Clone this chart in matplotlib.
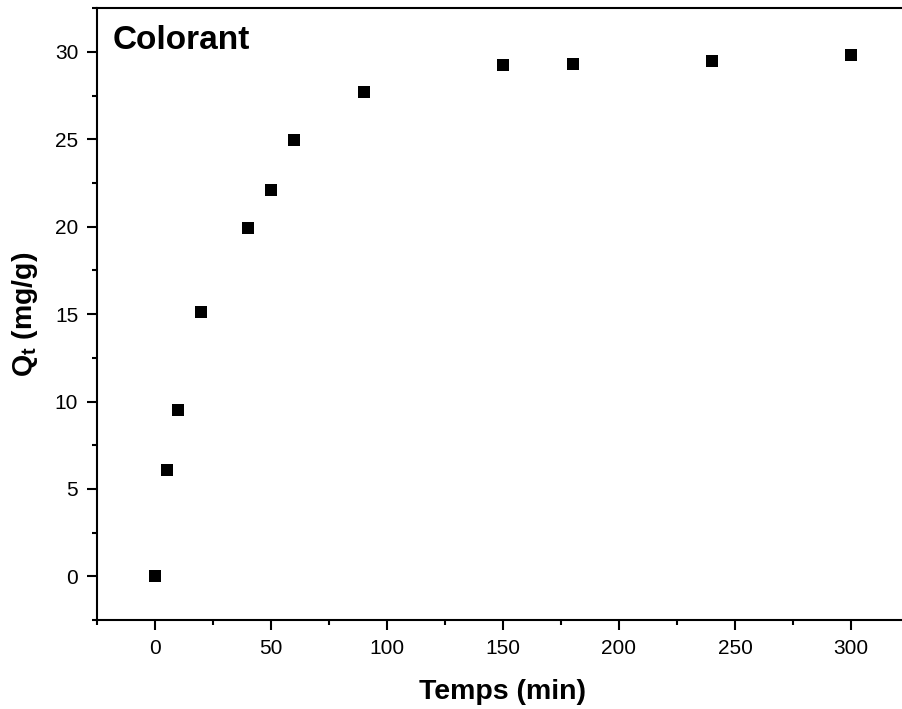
import matplotlib
matplotlib.use('Agg')
import matplotlib.pyplot as plt
from matplotlib.ticker import MultipleLocator

plt.rcParams['font.family'] = ['Liberation Sans', 'DejaVu Sans']
plt.rcParams['mathtext.fontset'] = 'custom'
plt.rcParams['mathtext.rm'] = 'Liberation Sans'
plt.rcParams['mathtext.bf'] = 'Liberation Sans:bold'

# contact time (min) and adsorbed amount (mg/g)
temps = [0, 5, 10, 20, 40, 50, 60, 90, 150, 180, 240, 300]
qt = [0.0, 6.07, 9.5, 15.1, 19.9, 22.1, 24.95, 27.7, 29.25, 29.3, 29.48, 29.8]

W, H = 903, 709
fig = plt.figure(figsize=(W / 100, H / 100), dpi=100)
ax = fig.add_axes([97 / W, (H - 620) / H, (909 - 97) / W, (620 - 8.2) / H])

ax.plot(temps, qt, 's', color='black', markersize=8.6, markeredgewidth=0)

ax.set_xlim(-25, 325)
ax.set_ylim(-2.5, 32.5)
ax.xaxis.set_major_locator(MultipleLocator(50))
ax.xaxis.set_minor_locator(MultipleLocator(25))
ax.yaxis.set_major_locator(MultipleLocator(5))
ax.yaxis.set_minor_locator(MultipleLocator(2.5))

for s in ax.spines.values():
    s.set_linewidth(1.5)
ax.tick_params(which='major', direction='out', length=7.5, width=1.5, labelsize=15, pad=6)
ax.tick_params(which='minor', direction='out', length=3.8, width=1.5)

ax.set_xlabel('Temps (min)', fontsize=20.5, fontweight='bold', labelpad=15)
ax.set_ylabel(r'$\mathbf{Q_t}$ (mg/g)', fontsize=20.5, fontweight='bold', labelpad=11)

ax.text(0.0197, 0.948, 'Colorant', transform=ax.transAxes, fontsize=24,
        fontweight='bold', va='center', ha='left')

fig.savefig('out.png', dpi=100)
